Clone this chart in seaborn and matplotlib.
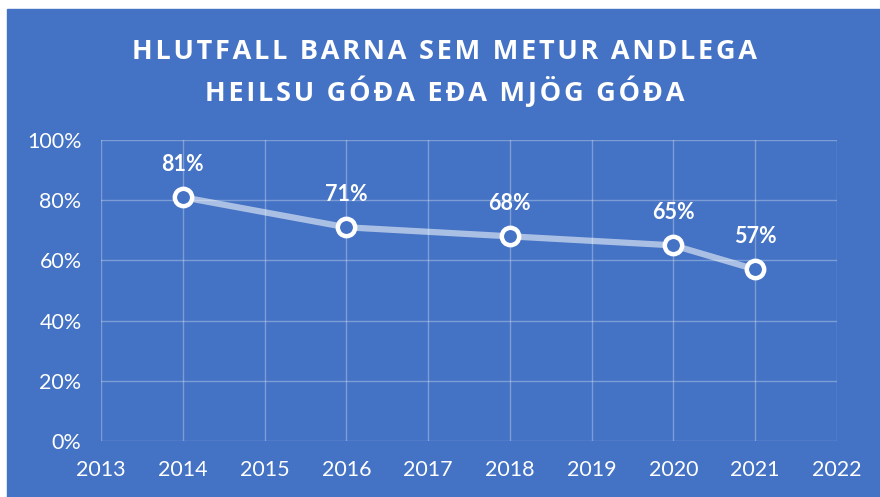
import matplotlib.pyplot as plt
import matplotlib.patches as mpatches
import seaborn as sns
import pandas as pd

years = [2014, 2016, 2018, 2020, 2021]
values = [81, 71, 68, 65, 57]
x_ticks = list(range(2013, 2023))
y_ticks = [0, 20, 40, 60, 80, 100]
title_lines = ["HLUTFALL BARNA SEM METUR ANDLEGA", "HEILSU GÓÐA EÐA MJÖG GÓÐA"]

bg = "#4472C4"
sns.set_theme(style="whitegrid", rc={
    "axes.facecolor": bg,
    "figure.facecolor": "white",
    "grid.color": (1, 1, 1, 0.3),
    "grid.linewidth": 1.0,
})
plt.rcParams["font.family"] = ["Lato", "DejaVu Sans"]

df = pd.DataFrame({"year": years, "value": values})

fig = plt.figure(figsize=(8.8, 4.97), dpi=100)
# blue chart area with a thin white strip at top and left
fig.patches.append(mpatches.Rectangle((7 / 880, 0), 1, 1 - 9 / 497,
                                      transform=fig.transFigure, color=bg, zorder=-1))
ax = fig.add_axes([101 / 880, 1 - 441 / 497, (837 - 101) / 880, (441 - 140) / 497])

sns.lineplot(data=df, x="year", y="value", ax=ax, color=(1, 1, 1, 0.55),
             linewidth=4.5, zorder=3)
ax.plot(df["year"], df["value"], linestyle="none", marker="o", markersize=12.5,
        markerfacecolor=bg, markeredgecolor="white", markeredgewidth=3.2, zorder=4)

for x, y in zip(years, values):
    ax.annotate(f"{y}%", (x, y), xytext=(0, 16), textcoords="offset points",
                ha="center", va="bottom", color="white", fontsize=15.5, fontweight="bold")

ax.set_xlim(2013, 2022)
ax.set_ylim(0, 100)
ax.set_xticks(x_ticks)
ax.set_yticks(y_ticks)
ax.set_yticklabels([f"{v}%" for v in y_ticks])
ax.tick_params(colors="white", labelsize=15.5, length=0)
ax.tick_params(axis="y", pad=14)
ax.tick_params(axis="x", pad=14)
ax.set_xlabel("")
ax.set_ylabel("")
for s in ax.spines.values():
    s.set_visible(False)
ax.grid(True, which="both")

# spaced-out title (hair spaces between letters)
title = "\n".join("\u200a".join(line) for line in title_lines)
fig.text(0.505, 1 - 73 / 497, title, ha="center", va="center", color="white",
         fontsize=19.5, fontweight="bold", linespacing=1.42,
         family=["Open Sans", "DejaVu Sans"])

fig.savefig("out.png", dpi=100, facecolor="white")
